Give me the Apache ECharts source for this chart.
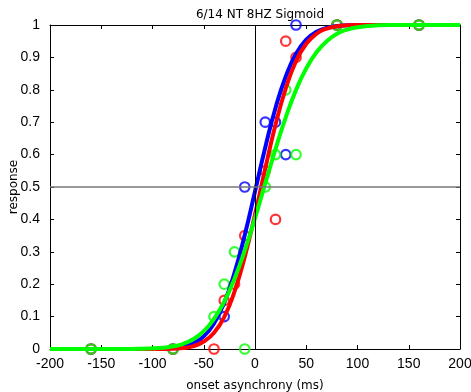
<!DOCTYPE html>
<html>
<head>
<meta charset="utf-8">
<script src="https://cdn.jsdelivr.net/npm/echarts@6/dist/echarts.min.js"></script>
<style>html,body{margin:0;padding:0;background:#fff}#c{width:471px;height:392px}</style>
</head>
<body>
<div id="c"></div>
<script>
// x positions for the fitted curves (ms)
var curveX = [-200,-190,-180,-170,-160,-150,-140,-130,-120,-110,-100,-90,-80,-70,-60,-50,-40,-30,-20,-10,0,10,20,30,40,50,60,70,80,90,100,110,120,130,140,150,160,170,180,190,200];
var blueCurve = [0,0,0,0,0,0,0,0,0,0,0,0.001,0.003,0.007,0.018,0.039,0.079,0.143,0.235,0.352,0.486,0.622,0.744,0.841,0.911,0.955,0.979,0.991,0.997,0.999,1,1,1,1,1,1,1,1,1,1,1];
var redCurve = [0,0,0,0,0,0,0,0,0,0,0,0,0.001,0.003,0.009,0.023,0.050,0.099,0.177,0.284,0.415,0.557,0.692,0.804,0.888,0.942,0.973,0.989,0.996,0.999,1,1,1,1,1,1,1,1,1,1,1];
var greenCurve = [0,0,0,0,0,0,0,0,0,0.001,0.002,0.004,0.008,0.016,0.031,0.055,0.093,0.146,0.217,0.304,0.404,0.511,0.617,0.715,0.799,0.866,0.916,0.950,0.973,0.986,0.993,0.997,0.999,1,1,1,1,1,1,1,1];

// observed responses [onset asynchrony, response]
var bluePoints = [[-160,0],[-80,0],[-30,0.1],[-10,0.5],[10,0.7],[20,0.7],[30,0.6],[40,1],[80,1],[160,1]];
var redPoints = [[-160,0],[-80,0],[-40,0],[-30,0.15],[-20,0.2],[-10,0.35],[10,0.55],[20,0.4],[30,0.95],[40,0.9],[80,1],[160,1]];
var greenPoints = [[-160,0],[-80,0],[-40,0.1],[-30,0.2],[-20,0.3],[-10,0],[10,0.5],[20,0.6],[30,0.8],[40,0.6],[80,1],[160,1]];

var TICKFONT = '"Liberation Sans Narrow", "Liberation Sans", sans-serif';
var TEXTFONT = '"DejaVu Sans", sans-serif';
function pairs(xs, ys){ return xs.map(function(x,i){ return [x, ys[i]]; }); }

var axisCommon = {
  axisLine:{show:true, onZero:false, lineStyle:{color:'#000', width:1}},
  axisTick:{show:true, inside:true, length:4, lineStyle:{color:'#000'}},
  splitLine:{show:false}
};
function curveSeries(data, color){
  return {type:'line', data:data, showSymbol:false, symbol:'none', smooth:0.5,
    lineStyle:{color:color, width:4}, silent:true, clip:true};
}
function pointSeries(data, color){
  return {type:'scatter', data:data, symbol:'circle', symbolSize:9.5, clip:false,
    itemStyle:{color:'rgba(255,255,255,0)', borderColor:color, borderWidth:2.2}};
}

var chart = echarts.init(document.getElementById('c'), null, {renderer:'canvas'});
chart.setOption({
  animation:false,
  backgroundColor:'#fff',
  title:{text:'6/14 NT 8HZ Sigmoid', left:255, textAlign:'center', top:4,
    textStyle:{fontFamily:TEXTFONT, fontSize:12, fontWeight:'normal', color:'#000'}},
  grid:{left:50, right:11, top:25, bottom:43, outerBoundsMode:'none', containLabel:false},
  xAxis:[
    Object.assign({type:'value', min:-200, max:200, interval:50, position:'bottom',
      name:'onset asynchrony (ms)', nameLocation:'middle', nameGap:31, nameMoveOverlap:false,
      nameTextStyle:{fontFamily:TEXTFONT, fontSize:12, color:'#000'},
      axisLabel:{fontFamily:TICKFONT, fontSize:14, color:'#000', margin:8}}, axisCommon),
    Object.assign({type:'value', min:-200, max:200, interval:50, position:'top',
      axisLabel:{show:false}}, axisCommon)
  ],
  yAxis:[
    Object.assign({type:'value', min:0, max:1, interval:0.1, position:'left',
      name:'response', nameLocation:'middle', nameGap:30, nameRotate:90, nameMoveOverlap:false,
      nameTextStyle:{fontFamily:TEXTFONT, fontSize:12, color:'#000'},
      axisLabel:{fontFamily:TICKFONT, fontSize:14, color:'#000', margin:10}}, axisCommon),
    Object.assign({type:'value', min:0, max:1, interval:0.1, position:'right',
      axisLabel:{show:false}}, axisCommon)
  ],
  series:[
    Object.assign(pointSeries(bluePoints,'#0000ff'), {
      markLine:{silent:true, symbol:'none', label:{show:false}, animation:false,
        data:[
          {xAxis:0, lineStyle:{color:'#000', width:1, type:'solid'}},
          {yAxis:0.5, lineStyle:{color:'#777', width:1.5, type:'solid'}}
        ]}
    }),
    curveSeries(pairs(curveX, blueCurve), '#0000ff'),
    pointSeries(redPoints,'#ff0000'),
    curveSeries(pairs(curveX, redCurve), '#ff0000'),
    pointSeries(greenPoints,'#00ff00'),
    curveSeries(pairs(curveX, greenCurve), '#00ff00')
  ]
});
</script>
</body>
</html>
